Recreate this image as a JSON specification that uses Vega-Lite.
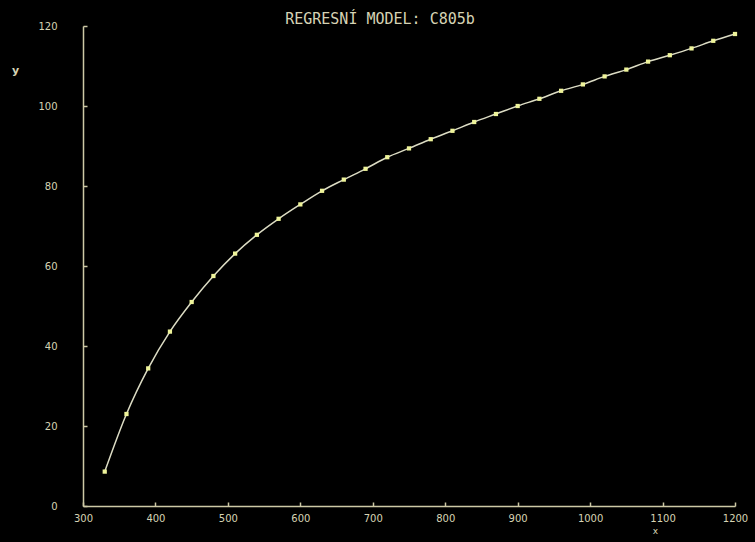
{
  "$schema": "https://vega.github.io/schema/vega-lite/v6.json",
  "width": 652,
  "height": 480,
  "autosize": {"type": "none"},
  "padding": {"left": 83, "top": 26, "right": 20, "bottom": 36},
  "background": "#000000",
  "title": {
    "text": "REGRESNÍ MODEL: C805b",
    "font": "DejaVu Sans Mono",
    "fontSize": 15,
    "fontWeight": "normal",
    "color": "#d6d3b4",
    "anchor": "middle",
    "dx": -29,
    "offset": -6
  },
  "data": {
    "values": [
      {"x": 330, "y": 8.6},
      {"x": 360, "y": 23.0},
      {"x": 390, "y": 34.4},
      {"x": 420, "y": 43.6},
      {"x": 450, "y": 51.0},
      {"x": 480, "y": 57.5},
      {"x": 510, "y": 63.1},
      {"x": 540, "y": 67.8},
      {"x": 570, "y": 71.8},
      {"x": 600, "y": 75.4},
      {"x": 630, "y": 78.8},
      {"x": 660, "y": 81.6},
      {"x": 690, "y": 84.3},
      {"x": 720, "y": 87.2},
      {"x": 750, "y": 89.4},
      {"x": 780, "y": 91.7},
      {"x": 810, "y": 93.8},
      {"x": 840, "y": 96.0},
      {"x": 870, "y": 98.0},
      {"x": 900, "y": 100.0},
      {"x": 930, "y": 101.8},
      {"x": 960, "y": 103.8},
      {"x": 990, "y": 105.4},
      {"x": 1020, "y": 107.4},
      {"x": 1050, "y": 109.1},
      {"x": 1080, "y": 111.1},
      {"x": 1110, "y": 112.7},
      {"x": 1140, "y": 114.4},
      {"x": 1170, "y": 116.3},
      {"x": 1200, "y": 118.0}
    ]
  },
  "encoding": {
    "x": {
      "field": "x",
      "type": "quantitative",
      "scale": {"domain": [300, 1200], "nice": false, "zero": false},
      "axis": {
        "title": "x",
        "format": "d",
        "labelFlush": false,
        "values": [300, 400, 500, 600, 700, 800, 900, 1000, 1100, 1200],
        "titleX": 572,
        "titleY": 24,
        "titleAlign": "center",
        "titleBaseline": "middle",
        "titleFontSize": 9,
        "titleFontWeight": "normal",
        "labelPadding": 11
      }
    },
    "y": {
      "field": "y",
      "type": "quantitative",
      "scale": {"domain": [0, 120], "nice": false},
      "axis": {
        "title": "y",
        "labelFlush": false,
        "values": [0, 20, 40, 60, 80, 100, 120],
        "titleAngle": 0,
        "titleX": -68,
        "titleY": 44,
        "titleAlign": "center",
        "titleBaseline": "middle",
        "titleFontSize": 11,
        "titleFontWeight": "bold",
        "labelPadding": 30
      }
    }
  },
  "layer": [
    {
      "mark": {"type": "line", "interpolate": "monotone", "color": "#dcdcc4", "strokeWidth": 1.5}
    },
    {
      "mark": {"type": "point", "shape": "square", "filled": true, "size": 18, "color": "#eef39a", "opacity": 1}
    }
  ],
  "config": {
    "view": {"stroke": null},
    "axis": {
      "grid": false,
      "domainColor": "#cdc9a6",
      "domainWidth": 1.5,
      "tickColor": "#cdc9a6",
      "tickSize": -4,
      "tickWidth": 1.5,
      "labelColor": "#d6d3b4",
      "labelFont": "DejaVu Sans",
      "labelFontSize": 10,
      "titleColor": "#d6d3b4",
      "titleFont": "DejaVu Sans"
    }
  }
}
